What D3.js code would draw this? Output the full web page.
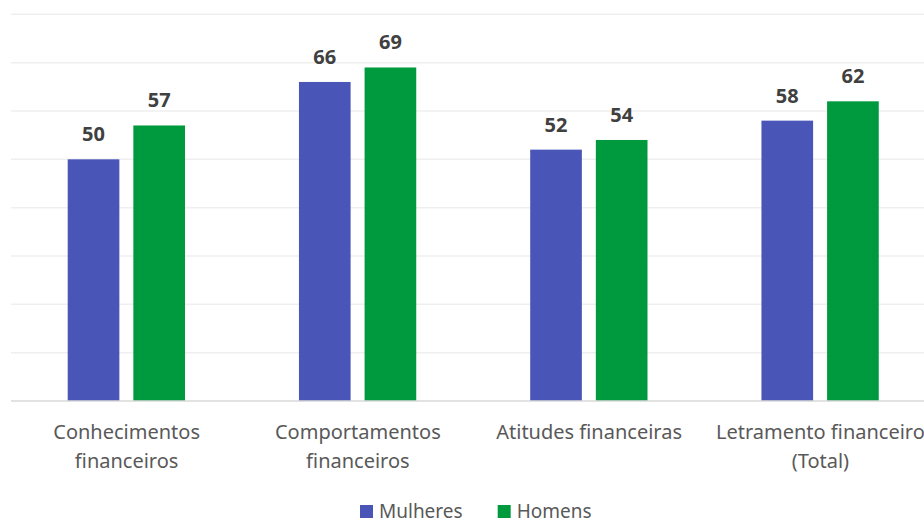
<!DOCTYPE html>
<html>
<head>
<meta charset="utf-8">
<script src="https://cdn.jsdelivr.net/npm/d3@7"></script>
<style>
  body { margin: 0; background: #fff; }
  svg { display: block; font-family: "Noto Sans", sans-serif; }
</style>
</head>
<body>
<script>
// chart data
let categories = [
  ["Conhecimentos", "financeiros"],
  ["Comportamentos", "financeiros"],
  ["Atitudes financeiras"],
  ["Letramento financeiro", "(Total)"]
];
let seriesNames = ["Mulheres", "Homens"];
let mulheres = [50, 66, 52, 58];
let homens = [57, 69, 54, 62];
let yTicks = [0, 10, 20, 30, 40, 50, 60, 70, 80];

let colors = ["#4a55b8", "#009a3e"];

let width = 924;
let height = 522;

let svg = d3.select("body").append("svg")
  .attr("width", width).attr("height", height);

let margin = {top: 14.3, left: 11, bottom: 121};
let plotRight = 936;
let baseY = height - margin.bottom;

let catKeys = categories.map(function(d, i) { return i; });
let xScale = d3.scaleBand().domain(catKeys).range([margin.left, plotRight]);
let xInner = d3.scaleBand().domain([0, 1]).range([56.7, 174]).paddingInner(0.213);
let yScale = d3.scaleLinear().domain([0, 80]).range([baseY, margin.top]);

// gridlines
svg.append("g").selectAll("line")
  .data(yTicks.slice(1))
  .enter().append("line")
    .attr("x1", margin.left).attr("x2", width)
    .attr("y1", function(d) { return yScale(d); })
    .attr("y2", function(d) { return yScale(d); })
    .style("stroke", "#efefef")
    .style("stroke-width", 1.5);

// bars
let rows = catKeys.map(function(i) {
  return [mulheres[i], homens[i]];
});

let groups = svg.selectAll(".grp")
  .data(rows)
  .enter().append("g")
    .attr("transform", function(d, i) { return "translate(" + xScale(i) + ",0)"; });

groups.selectAll("rect")
  .data(function(d) { return d; })
  .enter().append("rect")
    .attr("x", function(d, j) { return xInner(j); })
    .attr("y", function(d) { return yScale(d); })
    .attr("width", xInner.bandwidth())
    .attr("height", function(d) { return baseY - yScale(d); })
    .style("fill", function(d, j) { return colors[j]; });

groups.selectAll(".val")
  .data(function(d) { return d; })
  .enter().append("text")
    .attr("x", function(d, j) { return xInner(j) + xInner.bandwidth() / 2; })
    .attr("y", function(d) { return yScale(d) - 18; })
    .attr("text-anchor", "middle")
    .style("font-size", "20px")
    .style("font-weight", "bold")
    .style("fill", "#404040")
    .text(function(d) { return d; });

// baseline
svg.append("line")
  .attr("x1", margin.left).attr("x2", width)
  .attr("y1", baseY).attr("y2", baseY)
  .style("stroke", "#d9d9d9")
  .style("stroke-width", 1.5);

// category labels
let catLabels = svg.selectAll(".cat")
  .data(categories)
  .enter().append("text")
    .attr("x", function(d, i) { return xScale(i) + xScale.bandwidth() / 2; })
    .attr("y", 439)
    .attr("text-anchor", "middle")
    .style("font-size", "20px")
    .style("fill", "#595959");

catLabels.selectAll("tspan")
  .data(function(d) { return d; })
  .enter().append("tspan")
    .attr("x", function() { return d3.select(this.parentNode).attr("x"); })
    .attr("dy", function(d, i) { return i === 0 ? 0 : 29; })
    .text(function(d) { return d; });

// legend
let legendX = [360, 497.7];
let legend = svg.selectAll(".leg")
  .data(seriesNames)
  .enter().append("g")
    .attr("transform", function(d, i) { return "translate(" + legendX[i] + ",505)"; });

legend.append("rect")
  .attr("width", 13).attr("height", 13)
  .style("fill", function(d, i) { return colors[i]; });

legend.append("text")
  .attr("x", 19).attr("y", 12.5)
  .style("font-size", "19px")
  .style("fill", "#595959")
  .text(function(d) { return d; });
</script>
</body>
</html>
